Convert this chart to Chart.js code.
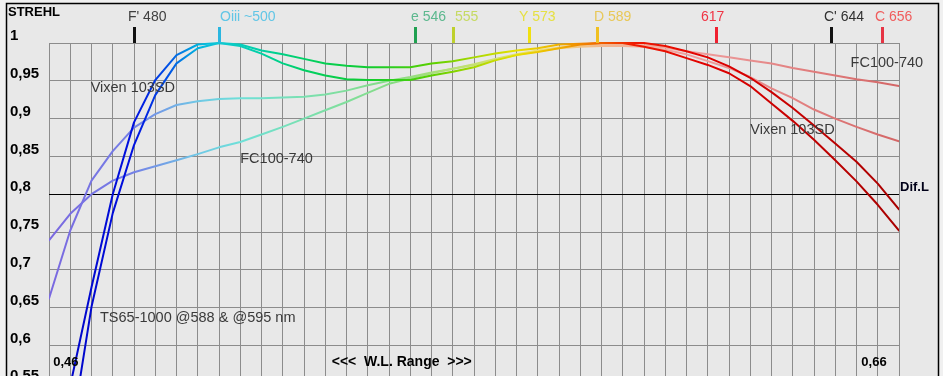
<!DOCTYPE html>
<html lang="en">
<head>
<meta charset="UTF-8">
<title>Strehl vs wavelength</title>
<script src="https://cdn.jsdelivr.net/npm/chart.js@4"></script>
<style>
  html, body { margin: 0; padding: 0; overflow: hidden; background: #f0f0f0; }
  #wrap { width: 943px; height: 430px; position: relative; }
</style>
</head>
<body>
<div id="wrap"><canvas id="strehlChart"></canvas></div>
<script>
// wavelength grid in nm (the chart shows it in microns: 0,46 .. 0,66)
const wavelengths = [460, 465, 470, 475, 480, 485, 490, 495, 500, 505, 510, 515, 520, 525, 530, 535, 540,
  545, 550, 555, 560, 565, 570, 575, 580, 585, 590, 595, 600, 605, 610, 615, 620, 625, 630, 635, 640,
  645, 650, 655, 660];

// Strehl values
const ts65at588 = [0.42, 0.547, 0.677, 0.80, 0.895, 0.951, 0.984, 0.998, 1.0, 0.998, 0.990, 0.985, 0.979,
  0.973, 0.970, 0.968, 0.968, 0.968, 0.973, 0.976, 0.981, 0.986, 0.990, 0.993, 0.998, 0.999, 1.0, 1.0,
  0.995, 0.989, 0.980, 0.971, 0.960, 0.943, 0.920, 0.897, 0.872, 0.845, 0.817, 0.786, 0.752];
const ts65at595 = [0.30, 0.475, 0.651, 0.775, 0.865, 0.931, 0.973, 0.993, 1.0, 0.996, 0.986, 0.973, 0.964,
  0.957, 0.952, 0.951, 0.951, 0.951, 0.957, 0.962, 0.968, 0.977, 0.984, 0.988, 0.993, 0.998, 1.0, 1.0,
  1.0, 0.996, 0.989, 0.981, 0.969, 0.954, 0.935, 0.914, 0.891, 0.867, 0.843, 0.814, 0.780];
const vixen103sd = [0.662, 0.752, 0.818, 0.857, 0.888, 0.906, 0.918, 0.923, 0.926, 0.927, 0.927, 0.928,
  0.929, 0.932, 0.937, 0.944, 0.950, 0.955, 0.961, 0.966, 0.971, 0.978, 0.984, 0.989, 0.993, 0.995, 0.996,
  0.996, 0.995, 0.991, 0.985, 0.976, 0.967, 0.955, 0.940, 0.927, 0.912, 0.900, 0.889, 0.879, 0.870];
const fc100740 = [0.739, 0.774, 0.800, 0.818, 0.829, 0.837, 0.845, 0.853, 0.862, 0.869, 0.879, 0.889, 0.900,
  0.911, 0.922, 0.934, 0.946, 0.953, 0.960, 0.966, 0.972, 0.979, 0.985, 0.990, 0.994, 0.997, 0.998, 0.998,
  0.997, 0.994, 0.989, 0.985, 0.981, 0.977, 0.973, 0.967, 0.962, 0.957, 0.952, 0.948, 0.943];

// spectral lines marked above the plot
const lineNames = ["F' 480", "Oiii ~500", "e 546", "555", "Y 573", "D 589", "617", "C' 644", "C 656"];
const lineNm = [480, 500, 546, 555, 573, 589, 617, 644, 656];
const lineTextColor = ['#404040', '#62c6e6', '#5cb88e', '#c6da62', '#e6e042', '#e8c858', '#f03444', '#303030', '#f05c5c'];
const lineTickColor = ['#111111', '#2ab6e0', '#1fa050', '#bed02c', '#f0e010', '#f0c020', '#f02030', '#111111', '#e63444'];
const lineTextDx = [-6, 1, -4, 2, -10, -3, -15, -7, -7];

// curve names written in the plot: [text, nm, strehl]
const curveNotes = [
  ['Vixen 103SD', 469.8, 0.941],
  ['FC100-740', 505, 0.847],
  ['TS65-1000 @588 & @595 nm', 472, 0.636],
  ['FC100-740', 648.6, 0.973],
  ['Vixen 103SD', 625, 0.885]
];

const tsStops = [[460, '#0000c0'], [480, '#0010e0'], [488, '#0050e6'], [495, '#00b4e0'], [500, '#10c8d4'],
  [510, '#00d0a4'], [520, '#00d064'], [535, '#10cc30'], [550, '#5ad000'], [560, '#a8d800'], [570, '#e6e000'],
  [580, '#f0b000'], [590, '#f06000'], [598, '#f01800'], [615, '#e00000'], [640, '#c00000'], [660, '#a80000']];
const lightStops = [[460, '#7a68e0'], [480, '#7480e6'], [495, '#70c8e6'], [505, '#6ee0d8'], [520, '#7ae0b0'],
  [540, '#86dc86'], [560, '#c6e070'], [575, '#f0e070'], [590, '#f2b890'], [610, '#f0a0a0'], [640, '#e07c7c'],
  [660, '#d46666']];

function spectrumGradient(chart, stops) {
  const {ctx, chartArea, scales} = chart;
  if (!chartArea) return '#888';
  const g = ctx.createLinearGradient(chartArea.left, 0, chartArea.right, 0);
  const w = chartArea.right - chartArea.left;
  stops.forEach(([nm, col]) => {
    const p = (scales.x.getPixelForValue(nm) - chartArea.left) / w;
    g.addColorStop(Math.min(1, Math.max(0, p)), col);
  });
  return g;
}

function pts(values) {
  return wavelengths.map((nm, i) => ({x: nm, y: values[i]}));
}

const decorations = {
  id: 'decorations',
  beforeDraw(chart) {
    const {ctx, width, height} = chart;
    ctx.save();
    ctx.fillStyle = '#f0f0f0';
    ctx.fillRect(0, 0, width, height);
    ctx.fillStyle = '#e8e8e8';
    ctx.fillRect(6, 3, 933, height);
    ctx.strokeStyle = '#000';
    ctx.lineWidth = 1.5;
    ctx.strokeRect(6.5, 3.5, 932, height + 10);
    ctx.restore();
  },
  afterDraw(chart) {
    const {ctx, chartArea, scales} = chart;
    const x = scales.x, y = scales.y;
    ctx.save();
    ctx.textBaseline = 'middle';

    ctx.fillStyle = '#000';
    ctx.font = 'bold 13px "Liberation Sans", Arial, sans-serif';
    ctx.textAlign = 'left';
    ctx.fillText('STREHL', 8, 12);

    // spectral line ticks and names
    lineNm.forEach((nm, i) => {
      const px = Math.round(x.getPixelForValue(nm));
      ctx.fillStyle = lineTickColor[i];
      ctx.fillRect(px - 1, 27, 3, chartArea.top - 27);
      ctx.fillStyle = lineTextColor[i];
      ctx.font = '14px "Liberation Sans", Arial, sans-serif';
      ctx.fillText(lineNames[i], px + lineTextDx[i], 17);
    });

    // curve names
    ctx.fillStyle = '#3a3a3a';
    ctx.font = '14.5px "Liberation Sans", Arial, sans-serif';
    curveNotes.forEach(([t, nm, v]) => {
      ctx.fillText(t, x.getPixelForValue(nm), y.getPixelForValue(v));
    });

    // diffraction limit and range labels
    ctx.fillStyle = '#000018';
    ctx.font = 'bold 13px "Liberation Sans", Arial, sans-serif';
    ctx.fillText('Dif.L', chartArea.right + 1, y.getPixelForValue(0.8) - 7);
    ctx.fillStyle = '#000';
    ctx.fillText('0,46', x.getPixelForValue(461), 362);
    ctx.textAlign = 'right';
    ctx.fillText('0,66', x.getPixelForValue(657.1), 362);
    ctx.textAlign = 'center';
    ctx.font = 'bold 14px "Liberation Sans", Arial, sans-serif';
    ctx.fillText('<<<  W.L. Range  >>>', x.getPixelForValue(543), 362);
    ctx.restore();
  }
};

const ctx = document.getElementById('strehlChart').getContext('2d');
const chart = new Chart(ctx, {
  type: 'line',
  data: {
    datasets: [
      {label: 'TS65-1000 @588', data: pts(ts65at588), borderWidth: 2,
        borderColor: c => spectrumGradient(c.chart, tsStops)},
      {label: 'TS65-1000 @595', data: pts(ts65at595), borderWidth: 2,
        borderColor: c => spectrumGradient(c.chart, tsStops)},
      {label: 'Vixen 103SD', data: pts(vixen103sd), borderWidth: 2,
        borderColor: c => spectrumGradient(c.chart, lightStops)},
      {label: 'FC100-740', data: pts(fc100740), borderWidth: 2,
        borderColor: c => spectrumGradient(c.chart, lightStops)}
    ]
  },
  options: {
    responsive: true,
    maintainAspectRatio: false,
    animation: false,
    events: [],
    layout: {padding: {left: 10, top: 43, right: 44, bottom: 9}},
    elements: {
      point: {radius: 0},
      line: {tension: 0, borderCapStyle: 'round', borderJoinStyle: 'round'}
    },
    datasets: {line: {clip: {left: 0, top: 3, right: 0, bottom: 0}}},
    plugins: {legend: {display: false}, tooltip: {enabled: false}},
    scales: {
      x: {
        type: 'linear', min: 460, max: 660,
        ticks: {display: false},
        grid: {color: '#8c8c8c', lineWidth: 1, drawTicks: false},
        border: {display: false},
        afterBuildTicks: s => { s.ticks = wavelengths.map(v => ({value: v})); },
        afterFit: s => { s.height = 0; }
      },
      y: {
        min: 0.5, max: 1,
        ticks: {
          stepSize: 0.05,
          color: '#000',
          font: {family: '"Liberation Sans", Arial, sans-serif', size: 15, weight: 'bold'},
          crossAlign: 'far',
          labelOffset: -7,
          padding: 0,
          callback: v => String(+v.toFixed(2)).replace('.', ',')
        },
        grid: {
          drawTicks: false,
          lineWidth: 1,
          color: c => Math.abs(c.tick.value - 0.8) < 1e-6 ? '#000' : '#8c8c8c'
        },
        border: {display: false},
        afterFit: s => { s.width = 39; }
      }
    }
  },
  plugins: [decorations]
});
</script>
</body>
</html>
